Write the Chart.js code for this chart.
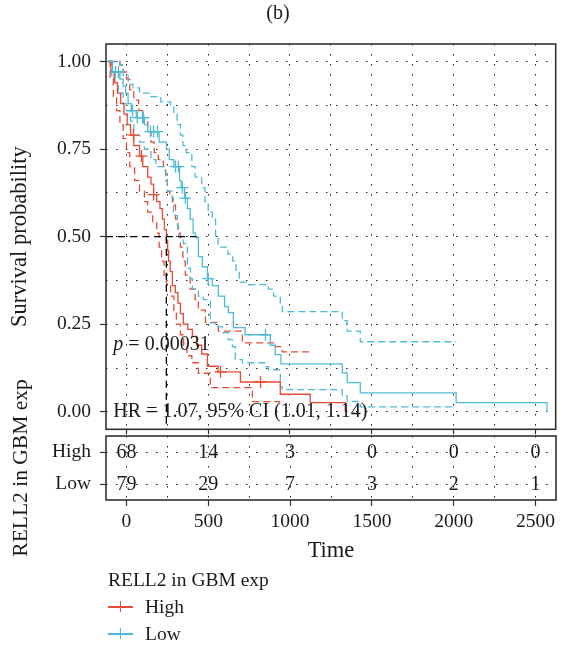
<!DOCTYPE html>
<html>
<head>
<meta charset="utf-8">
<script src="https://cdn.jsdelivr.net/npm/chart.js@4.4.1/dist/chart.umd.min.js"></script>
<style>
  html, body { margin: 0; padding: 0; background: #fff; }
  body { width: 563px; height: 652px; position: relative; overflow: hidden;
         font-family: 'Liberation Serif', 'Times New Roman', serif; color: #1a1a1a; }
  canvas { position: absolute; left: 0; }
  #km { top: 0; }
  #risk { top: 340px; }
  #legend { position: absolute; left: 108px; top: 566px; font-size: 19.5px; line-height: 27px; }
  .item { display: flex; align-items: center; }
  .sym { position: relative; width: 25px; height: 27px; margin-right: 12px; }
  .sym::before { content: ''; position: absolute; left: 0; right: 0; top: 13px; height: 1.5px; background: var(--c); }
  .sym::after { content: ''; position: absolute; left: 11.5px; width: 1.5px; top: 8px; height: 11px; background: var(--c); }
</style>
</head>
<body>
<canvas id="km" width="563" height="450"></canvas>
<canvas id="risk" width="563" height="230"></canvas>
<div id="legend">
  <div>RELL2 in GBM exp</div>
  <div class="item"><span class="sym" style="--c:#E64B35"></span>High</div>
  <div class="item"><span class="sym" style="--c:#4DBBD5"></span>Low</div>
</div>
<script>
const RED = '#E64B35';
const BLUE = '#4DBBD5';
const INK = '#1a1a1a';
const FONT = "'Liberation Serif', 'Times New Roman', serif";

// Kaplan-Meier steps, [time, survival] (value holds from time on)
const highSurv = [[-110,1],[-95,0.97],[-75,0.94],[-55,0.91],[-35,0.88],[-15,0.85],[5,0.82],[25,0.79],[45,0.76],
  [80,0.73],[100,0.70],[130,0.67],[150,0.65],[166,0.62],[185,0.60],[205,0.58],[220,0.55],[232,0.52],[244,0.49],
  [252,0.46],[258,0.43],[268,0.40],[281,0.36],[299,0.34],[315,0.31],[330,0.28],[348,0.25],[375,0.235],[403,0.215],
  [430,0.19],[460,0.165],[495,0.13],[560,0.114],[697,0.085],[941,0.05],[1124,0.026],[1338,0]];
const highUpper = [[-110,1],[-40,0.99],[-20,0.97],[0,0.95],[20,0.92],[45,0.89],[75,0.86],[105,0.83],[130,0.80],
  [150,0.77],[170,0.74],[195,0.72],[226,0.70],[240,0.66],[250,0.63],[265,0.62],[281,0.59],[300,0.55],[315,0.51],
  [330,0.47],[345,0.43],[360,0.39],[390,0.35],[420,0.32],[440,0.29],[483,0.255],[562,0.23],[709,0.197],[910,0.186],
  [953,0.171],[1130,0.167]];
const highLower = [[-110,1],[-100,0.95],[-80,0.90],[-60,0.86],[-40,0.82],[-20,0.78],[0,0.74],[20,0.70],[50,0.66],
  [80,0.63],[110,0.60],[130,0.57],[160,0.54],[185,0.51],[200,0.47],[215,0.43],[230,0.39],[245,0.36],[270,0.33],
  [290,0.29],[305,0.25],[330,0.22],[350,0.19],[370,0.16],[400,0.14],[440,0.11],[513,0.069],[770,0.029],[941,0.029]];
const lowSurv = [[-110,1],[-85,0.97],[-40,0.95],[-20,0.93],[-5,0.91],[10,0.88],[30,0.86],[60,0.84],[110,0.82],
  [130,0.80],[200,0.77],[245,0.75],[262,0.72],[290,0.70],[325,0.66],[335,0.64],[355,0.61],[373,0.58],[390,0.55],
  [408,0.51],[422,0.497],[440,0.443],[464,0.414],[495,0.38],[525,0.36],[562,0.33],[600,0.30],[623,0.283],
  [654,0.24],[725,0.22],[880,0.19],[910,0.163],[945,0.137],[1320,0.111],[1350,0.083],[1430,0.054],[2016,0.026],[2572,0]];
const lowUpper = [[-110,1],[-40,0.99],[-20,0.96],[10,0.935],[40,0.925],[80,0.91],[150,0.90],[210,0.885],[270,0.87],
  [290,0.85],[310,0.82],[330,0.79],[345,0.76],[365,0.74],[400,0.70],[420,0.67],[460,0.64],[480,0.60],[500,0.57],
  [525,0.55],[545,0.50],[560,0.47],[620,0.45],[650,0.43],[670,0.40],[690,0.37],[745,0.363],[868,0.35],[900,0.33],
  [941,0.31],[953,0.286],[1320,0.26],[1350,0.23],[1430,0.20],[2016,0.20]];
const lowLower = [[-110,1],[-90,0.96],[-70,0.94],[-50,0.91],[-20,0.88],[0,0.86],[25,0.83],[45,0.79],[80,0.77],
  [110,0.75],[150,0.72],[180,0.70],[238,0.68],[250,0.63],[281,0.61],[287,0.56],[312,0.53],[318,0.50],[348,0.48],
  [373,0.41],[391,0.38],[403,0.35],[440,0.33],[470,0.32],[513,0.254],[544,0.243],[587,0.226],[623,0.206],
  [648,0.186],[666,0.149],[709,0.14],[850,0.129],[868,0.12],[941,0.071],[953,0.063],[1320,0.045],[1350,0.03],
  [1430,0.014],[2016,0.014]];
const highCensor = [[43,0.79],[92,0.73],[166,0.62],[575,0.114],[820,0.085]];
const lowCensor = [[-67,0.97],[-49,0.97],[37,0.86],[67,0.84],[98,0.84],[104,0.84],[147,0.80],[166,0.80],[190,0.80],
  [300,0.70],[318,0.70],[342,0.64],[360,0.61],[500,0.38],[850,0.22]];
const medianHigh = 244;
const medianLow = 422;

const groups = ['High', 'Low'];
const riskTimes = [0, 500, 1000, 1500, 2000, 2500];
const riskHigh = [68, 14, 3, 0, 0, 0];
const riskLow = [79, 29, 7, 3, 2, 1];
const yTickValues = [0, 0.25, 0.5, 0.75, 1];
const yTickLabels = ['0.00', '0.25', '0.50', '0.75', '1.00'];
const pValue = '0.00031';
const hrText = 'HR = 1.07, 95% CI (1.01, 1.14)';

const X_MIN = -125, X_MAX = 2625;
const gridX = [];
for (let v = 0; v <= 2500; v += 250) gridX.push(v);
const gridY = [];
for (let v = 0; v <= 1; v += 0.125) gridY.push(v);

const toXY = arr => arr.map(([x, y]) => ({x, y}));
const stepLine = (arr, color, dash) => ({
  data: toXY(arr), borderColor: color, borderWidth: 1.3, borderDash: dash || [],
  stepped: 'before', pointRadius: 0, fill: false
});
const censor = (arr, color) => ({
  data: toXY(arr), showLine: false, pointStyle: 'cross', pointRadius: 6,
  borderColor: color, borderWidth: 1.3
});
const tickCol = majors => c => (c.tick && majors(c.tick.value)) ? '#333' : 'rgba(0,0,0,0)';

const boxPlugin = {
  id: 'box',
  afterDraw(chart) {
    const {ctx, chartArea: a} = chart;
    ctx.save();
    ctx.strokeStyle = '#333';
    ctx.lineWidth = 1.6;
    ctx.strokeRect(a.left, a.top, a.right - a.left, a.bottom - a.top);
    ctx.restore();
  }
};

const annotPlugin = {
  id: 'annot',
  afterDatasetsDraw(chart) {
    const {ctx, scales: {x, y}} = chart;
    ctx.save();
    ctx.fillStyle = INK;
    ctx.textBaseline = 'middle';
    const px = x.getPixelForValue(-80);
    ctx.font = 'italic 20px ' + FONT;
    ctx.fillText('p', px, y.getPixelForValue(0.19));
    const w = ctx.measureText('p').width;
    ctx.font = '20px ' + FONT;
    ctx.fillText(' = ' + pValue, px + w, y.getPixelForValue(0.19));
    ctx.fillText(hrText, px, y.getPixelForValue(0));
    ctx.restore();
  }
};

new Chart(document.getElementById('km'), {
  type: 'line',
  data: {
    datasets: [
      {data: [{x: X_MIN, y: 0.5}, {x: medianLow, y: 0.5}], borderColor: '#000', borderWidth: 1.3, borderDash: [7, 5], pointRadius: 0},
      {data: [{x: medianHigh, y: 0.5}, {x: medianHigh, y: -0.05}], borderColor: '#000', borderWidth: 1.3, borderDash: [7, 5], pointRadius: 0},
      censor(lowCensor, BLUE),
      censor(highCensor, RED),
      stepLine(lowSurv, BLUE),
      stepLine(highSurv, RED),
      stepLine(lowUpper, BLUE, [7, 4]),
      stepLine(lowLower, BLUE, [7, 4]),
      stepLine(highUpper, RED, [7, 4]),
      stepLine(highLower, RED, [7, 4])
    ]
  },
  options: {
    responsive: false, animation: false, devicePixelRatio: 1,
    layout: {padding: {left: 0, right: 7, top: 0, bottom: 0}},
    plugins: {
      legend: {display: false}, tooltip: {enabled: false},
      title: {display: true, text: '(b)', color: INK, font: {family: FONT, size: 20, weight: 'normal'},
              padding: {top: 2, bottom: 18}}
    },
    scales: {
      x: {
        type: 'linear', min: X_MIN, max: X_MAX,
        afterBuildTicks: s => { s.ticks = gridX.map(v => ({value: v})); },
        afterFit: s => { s.height = 7; },
        ticks: {display: false, autoSkip: false},
        grid: {color: '#222', lineWidth: 1, tickLength: 5, tickWidth: 1.2, tickColor: tickCol(v => v % 500 === 0)},
        border: {display: false, dash: [1.5, 8.5]}
      },
      y: {
        min: -0.05, max: 1.05,
        afterBuildTicks: s => { s.ticks = gridY.map(v => ({value: v})); },
        afterFit: s => { s.width = 106; },
        ticks: {autoSkip: false, color: INK, padding: 9, font: {family: FONT, size: 19.5},
                callback: v => { const i = yTickValues.indexOf(v); return i >= 0 ? yTickLabels[i] : ''; }},
        grid: {color: '#222', lineWidth: 1, tickLength: 6, tickWidth: 1.2, tickColor: tickCol(v => yTickValues.includes(v))},
        border: {display: false, dash: [1.5, 8.5]},
        title: {display: true, text: 'Survival probability', color: INK, font: {family: FONT, size: 22.5},
                padding: {top: 7, bottom: 0}}
      }
    }
  },
  plugins: [boxPlugin, annotPlugin]
});

const riskPlugin = {
  id: 'riskText',
  afterDatasetsDraw(chart) {
    const {ctx} = chart;
    ctx.save();
    ctx.fillStyle = INK;
    ctx.font = '20px ' + FONT;
    ctx.textAlign = 'center';
    ctx.textBaseline = 'middle';
    chart.data.datasets.forEach((ds, di) => {
      chart.getDatasetMeta(di).data.forEach((el, i) => {
        ctx.fillText(String(ds.data[i].n), el.x, el.y + 1);
      });
    });
    ctx.restore();
  }
};

new Chart(document.getElementById('risk'), {
  type: 'scatter',
  data: {
    datasets: [
      {data: riskTimes.map((t, i) => ({x: t, y: groups[0], n: riskHigh[i]})), pointRadius: 0},
      {data: riskTimes.map((t, i) => ({x: t, y: groups[1], n: riskLow[i]})), pointRadius: 0}
    ]
  },
  options: {
    responsive: false, animation: false, devicePixelRatio: 1,
    layout: {padding: {left: 0, right: 7, top: 96, bottom: 0}},
    plugins: {legend: {display: false}, tooltip: {enabled: false}},
    scales: {
      x: {
        type: 'linear', min: X_MIN, max: X_MAX,
        afterBuildTicks: s => { s.ticks = gridX.map(v => ({value: v})); },
        afterFit: s => { s.height = 70; },
        ticks: {autoSkip: false, maxRotation: 0, color: INK, padding: 4, font: {family: FONT, size: 19.5},
                callback: v => riskTimes.includes(v) ? String(v) : ''},
        grid: {color: '#222', lineWidth: 1, tickLength: 6, tickWidth: 1.2, tickColor: tickCol(v => v % 500 === 0)},
        border: {display: false, dash: [1.5, 8.5]},
        title: {display: true, text: 'Time', color: INK, font: {family: FONT, size: 22.5}, padding: {top: 0, bottom: 5}}
      },
      y: {
        type: 'category', labels: groups, offset: true,
        afterFit: s => { s.width = 106; },
        ticks: {autoSkip: false, color: INK, padding: 9, font: {family: FONT, size: 19.5}},
        grid: {offset: false, color: '#222', lineWidth: 1, tickLength: 6, tickWidth: 1.2, tickColor: '#333'},
        border: {display: false, dash: [1.5, 8.5]},
        title: {display: true, text: 'RELL2 in GBM exp', color: INK, font: {family: FONT, size: 21.5},
                padding: {top: 8, bottom: 0}}
      }
    }
  },
  plugins: [boxPlugin, riskPlugin]
});
</script>
</body>
</html>
